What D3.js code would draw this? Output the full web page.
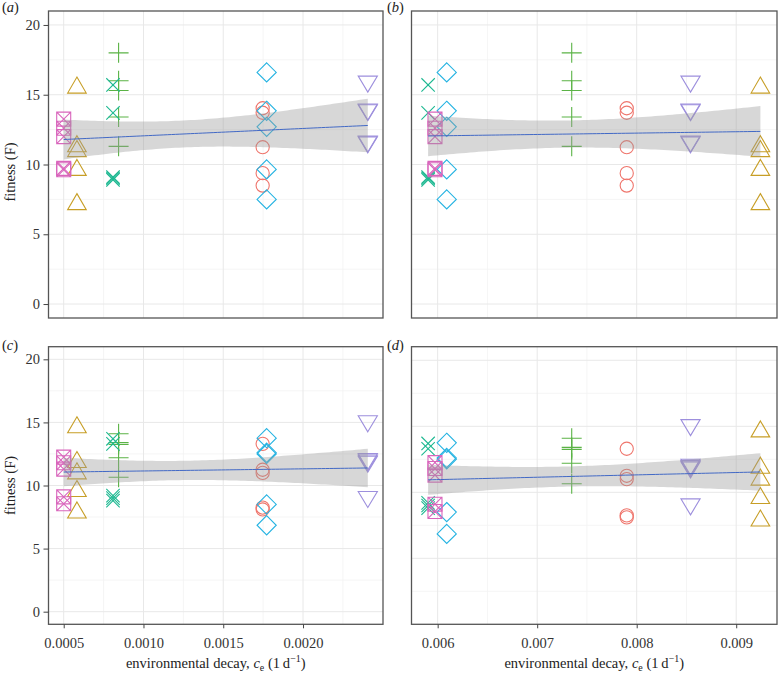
<!DOCTYPE html>
<html><head><meta charset="utf-8">
<script src="https://cdn.jsdelivr.net/npm/d3@7"></script>
<style>body{margin:0;background:#fff;} svg{display:block;}</style>
</head><body>
<svg id="chart" width="778" height="676"></svg>
<script>
// ---------- data ----------
const groupShapes = ["circle","triangle","plus","cross","diamond","triangleDown","squareCross"];
const groupColors = ["#EF756C","#C79E26","#5BB346","#1DB891","#25B3E2","#9D8FDD","#D965BC"];

// environmental decay of each group (panels a & c / panels b & d)
const decayAC = [0.001747, 0.000583, 0.000844, 0.000809, 0.001772, 0.002406, 0.0005];
const decayBD = [0.007900, 0.009243, 0.007347, 0.005904, 0.006091, 0.008541, 0.005973];

// fitness of each group, panels a & b
const fitnessAB = [
  [14.03, 13.71, 11.24, 9.38, 8.49],   // circle
  [15.5, 11.3, 10.95, 9.6, 7.15],      // triangle
  [18.0, 16.0, 15.3, 13.4, 11.3],      // plus
  [15.7, 13.7, 9.1, 9.0, 8.9],         // cross
  [16.6, 13.85, 12.7, 9.65, 7.5],      // diamond
  [15.95, 13.95, 13.9, 11.65, 11.6],   // triangle down
  [13.25, 12.6, 12.0, 9.72, 9.62]      // square cross
];
// fitness of each group, panels c & d
const fitnessCD = [
  [13.3, 11.25, 11.0, 8.25, 8.1],
  [14.6, 11.85, 10.95, 9.55, 7.85],
  [14.1, 13.4, 13.25, 12.2, 10.65],
  [13.7, 13.3, 9.2, 9.0, 8.8],
  [13.75, 12.6, 12.5, 8.5, 6.85],
  [15.1, 12.1, 12.0, 11.9, 9.1],
  [12.25, 11.8, 11.3, 9.1, 8.55]
];

const xTicksAC = [0.0005, 0.0010, 0.0015, 0.0020];
const xTickLabelsAC = ["0.0005", "0.0010", "0.0015", "0.0020"];
const xTicksBD = [0.006, 0.007, 0.008, 0.009];
const xTickLabelsBD = ["0.006", "0.007", "0.008", "0.009"];
const yTicks = [0, 5, 10, 15, 20];
const yTickLabels = ["0", "5", "10", "15", "20"];
const panelLabels = ["a", "b", "c", "d"];

// ---------- layout ----------
const svg = d3.select("#chart");
const FONT = "'Liberation Serif','Times New Roman',serif";
const panels = [
  {lab:0, xs:decayAC, ys:fitnessAB, x0:48.5, x1:383, y0:11, y1:318, ydom:[-1,21], xt:xTicksAC, xl:xTickLabelsAC, showX:false, showY:true},
  {lab:1, xs:decayBD, ys:fitnessAB, x0:411.5, x1:777, y0:11, y1:318, ydom:[-1,21], xt:xTicksBD, xl:xTickLabelsBD, showX:false, showY:false},
  {lab:2, xs:decayAC, ys:fitnessCD, x0:48.5, x1:383, y0:346.7, y1:624.3, ydom:[-1,21], xt:xTicksAC, xl:xTickLabelsAC, showX:true, showY:true},
  {lab:3, xs:decayBD, ys:fitnessCD, x0:411.5, x1:777, y0:346.7, y1:624.3, ydom:[0,21.03], xt:xTicksBD, xl:xTickLabelsBD, showX:true, showY:false}
];

function shapePath(shape) {
  const p = d3.path();
  if (shape === "circle") { p.moveTo(6.6, 0); p.arc(0, 0, 6.6, 0, 2*Math.PI); }
  else if (shape === "triangle") { const w=9.3, h=16; p.moveTo(0,-2*h/3); p.lineTo(w,h/3); p.lineTo(-w,h/3); p.closePath(); }
  else if (shape === "triangleDown") { const w=9.6, h=16; p.moveTo(0,2*h/3); p.lineTo(w,-h/3); p.lineTo(-w,-h/3); p.closePath(); }
  else if (shape === "plus") { p.moveTo(-10,0); p.lineTo(10,0); p.moveTo(0,-10); p.lineTo(0,10); }
  else if (shape === "cross") { const a=6.7; p.moveTo(-a,-a); p.lineTo(a,a); p.moveTo(-a,a); p.lineTo(a,-a); }
  else if (shape === "diamond") { const a=9.6; p.moveTo(0,-a); p.lineTo(a,0); p.lineTo(0,a); p.lineTo(-a,0); p.closePath(); }
  else if (shape === "squareCross") { const a=7; p.rect(-a,-a,2*a,2*a); p.moveTo(-a,-a); p.lineTo(a,a); p.moveTo(-a,a); p.lineTo(a,-a); }
  return p.toString();
}

function tQuantile975(df) {
  const z = 1.959964;
  return z + (z**3 + z)/(4*df) + (5*z**5 + 16*z**3 + 3*z)/(96*df*df) + (3*z**7 + 19*z**5 + 17*z**3 - 15*z)/(384*df**3);
}

panels.forEach(P => {
  const [xmin, xmax] = d3.extent(P.xs);
  const r = xmax - xmin;
  const x = d3.scaleLinear().domain([xmin - 0.05*r, xmax + 0.05*r]).range([P.x0, P.x1]);
  const y = d3.scaleLinear().domain(P.ydom).range([P.y1, P.y0]);
  const g = svg.append("g");
  const xd = x.domain(), yd = y.domain();

  // minor grid
  const step = P.xt[1] - P.xt[0];
  const xMinor = d3.range(-2, P.xt.length + 2).map(i => P.xt[0] + (i + 0.5)*step).filter(v => v > xd[0] && v < xd[1]);
  const yMinor = [2.5, 7.5, 12.5, 17.5].filter(v => v > yd[0] && v < yd[1]);
  g.selectAll(".xminor").data(xMinor).join("line")
    .attr("x1", d => x(d)).attr("x2", d => x(d)).attr("y1", P.y0).attr("y2", P.y1)
    .attr("stroke", "#f2f2f2").attr("stroke-width", 0.8);
  g.selectAll(".yminor").data(yMinor).join("line")
    .attr("y1", d => y(d)).attr("y2", d => y(d)).attr("x1", P.x0).attr("x2", P.x1)
    .attr("stroke", "#f2f2f2").attr("stroke-width", 0.8);
  // major grid
  g.selectAll(".xmajor").data(P.xt.filter(v => v > xd[0] && v < xd[1])).join("line")
    .attr("x1", d => x(d)).attr("x2", d => x(d)).attr("y1", P.y0).attr("y2", P.y1)
    .attr("stroke", "#e8e8e8").attr("stroke-width", 1);
  g.selectAll(".ymajor").data(yTicks.filter(v => v > yd[0] && v < yd[1])).join("line")
    .attr("y1", d => y(d)).attr("y2", d => y(d)).attr("x1", P.x0).attr("x2", P.x1)
    .attr("stroke", "#e8e8e8").attr("stroke-width", 1);

  // points
  const pts = [];
  P.ys.forEach((vals, gi) => vals.forEach(v => pts.push({gi, x: P.xs[gi], y: v})));
  g.selectAll(".pt").data(pts).join("path")
    .attr("d", d => shapePath(groupShapes[d.gi]))
    .attr("transform", d => `translate(${x(d.x)},${y(d.y)})`)
    .attr("fill", "none").attr("stroke", d => groupColors[d.gi]).attr("stroke-width", 1.1);

  // linear fit with 95% CI
  const n = pts.length;
  const mx = d3.mean(pts, d => d.x), my = d3.mean(pts, d => d.y);
  const sxx = d3.sum(pts, d => (d.x - mx)**2);
  const sxy = d3.sum(pts, d => (d.x - mx)*(d.y - my));
  const b = sxy / sxx, a = my - b*mx;
  const sse = d3.sum(pts, d => (d.y - a - b*d.x)**2);
  const s = Math.sqrt(sse/(n - 2));
  const tq = tQuantile975(n - 2);
  const grid = d3.range(80).map(i => xmin + i*(xmax - xmin)/79);
  const fit = grid.map(xv => {
    const yh = a + b*xv;
    const se = s*Math.sqrt(1/n + (xv - mx)**2/sxx);
    return {x: xv, y: yh, lo: yh - tq*se, hi: yh + tq*se};
  });
  g.append("path").datum(fit)
    .attr("d", d3.area().x(d => x(d.x)).y0(d => y(d.lo)).y1(d => y(d.hi)))
    .attr("fill", "#9a9a9a").attr("fill-opacity", 0.4);
  g.append("path").datum(fit)
    .attr("d", d3.line().x(d => x(d.x)).y(d => y(d.y)))
    .attr("fill", "none").attr("stroke", "#4269C6").attr("stroke-width", 1);

  // border
  g.append("rect").attr("x", P.x0).attr("y", P.y0).attr("width", P.x1 - P.x0).attr("height", P.y1 - P.y0)
    .attr("fill", "none").attr("stroke", "#555").attr("stroke-width", 1.3);

  // axes
  if (P.showX) {
    const ax = g.append("g").attr("transform", `translate(0,${P.y1})`)
      .call(d3.axisBottom(x).tickValues(P.xt).tickFormat((d, i) => P.xl[i]).tickSize(4).tickPadding(9.5));
    ax.select(".domain").remove();
    ax.selectAll("line").attr("stroke", "#444");
    ax.selectAll("text").attr("font-family", FONT).attr("font-size", 14.5).attr("fill", "#333");
    const t = g.append("text").attr("x", (P.x0 + P.x1)/2).attr("y", 668)
      .attr("text-anchor", "middle").attr("font-family", FONT).attr("font-size", 14.5).attr("fill", "#222");
    t.append("tspan").text("environmental decay, ");
    t.append("tspan").attr("font-style", "italic").text("c");
    t.append("tspan").attr("font-size", 10).attr("dy", 3).text("e");
    t.append("tspan").attr("dy", -3).text(" (1\u2009d");
    t.append("tspan").attr("font-size", 10).attr("dy", -6).text("\u22121");
    t.append("tspan").attr("dy", 6).text(")");
  }
  if (P.showY) {
    const ay = g.append("g").attr("transform", `translate(${P.x0},0)`)
      .call(d3.axisLeft(y).tickValues(yTicks).tickFormat((d, i) => yTickLabels[i]).tickSize(5).tickPadding(3.5));
    ay.select(".domain").remove();
    ay.selectAll("line").attr("stroke", "#444");
    ay.selectAll("text").attr("font-family", FONT).attr("font-size", 14.5).attr("fill", "#333");
    const cy = P.lab === 0 ? 172 : (P.y0 + P.y1)/2;
    g.append("text").attr("transform", `translate(14.5,${cy}) rotate(-90)`)
      .attr("text-anchor", "middle").attr("font-family", FONT).attr("font-size", 14.5).attr("fill", "#222")
      .text("fitness (F)");
  }
  // panel label
  const lt = g.append("text").attr("x", P.lab % 2 === 0 ? 2 : 387).attr("y", P.lab < 2 ? 12 : 349.5)
    .attr("font-family", FONT).attr("font-size", 14.5).attr("fill", "#222");
  lt.append("tspan").text("(");
  lt.append("tspan").attr("font-style", "italic").text(panelLabels[P.lab]);
  lt.append("tspan").text(")");
});
</script>
</body></html>
